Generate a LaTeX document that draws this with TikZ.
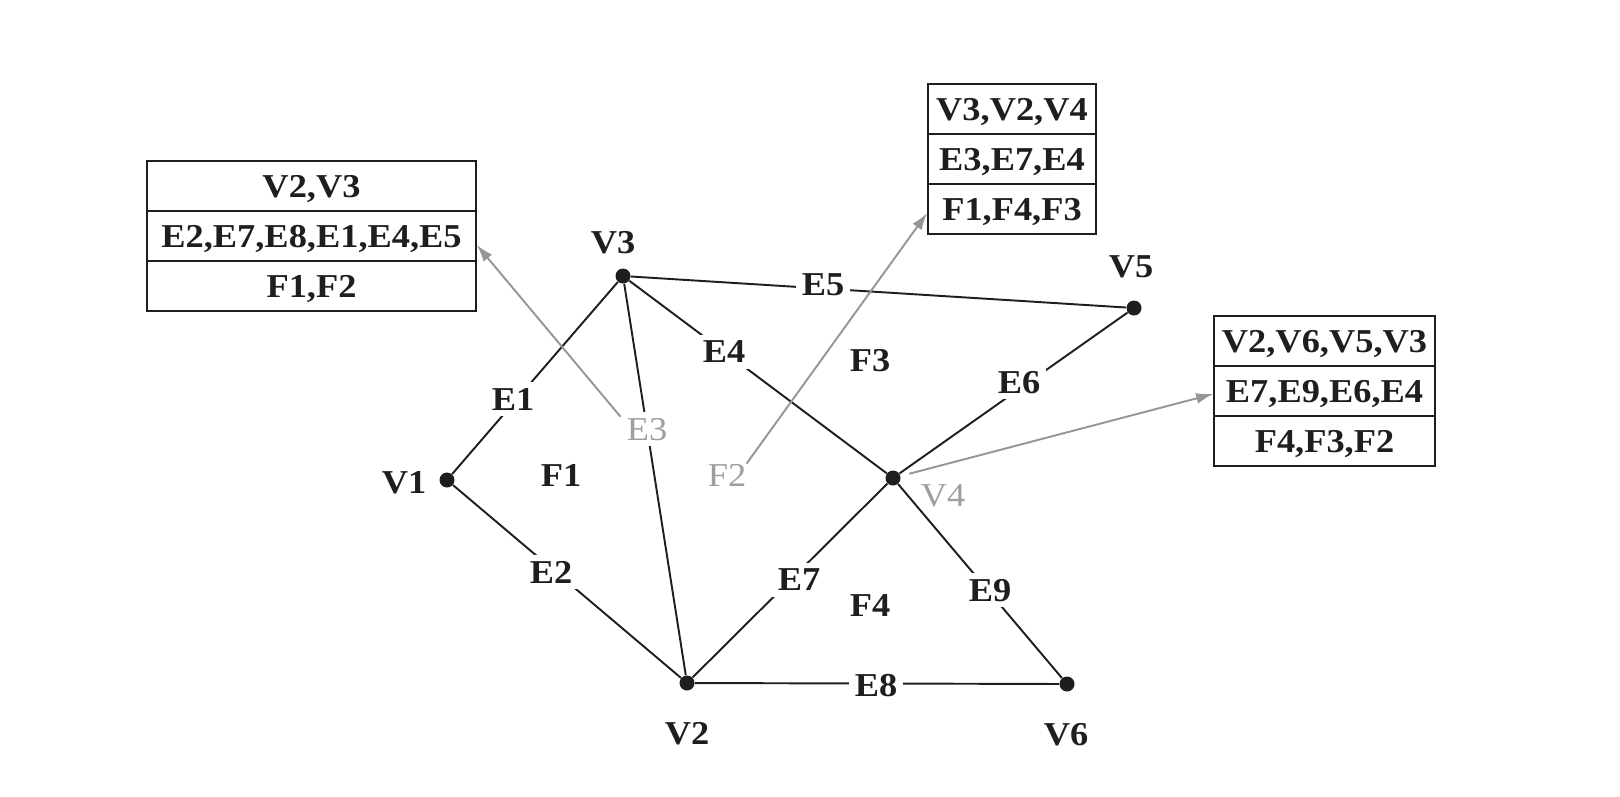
\documentclass[tikz,border=0pt]{standalone}
\usepackage{fontspec}
\setmainfont{Liberation Serif}[FakeStretch=1.09]
\usetikzlibrary{arrows.meta}
\definecolor{ink}{RGB}{30,30,30}
\definecolor{lgray}{RGB}{150,150,150}
\definecolor{tgray}{RGB}{158,158,158}
\begin{document}
\begin{tikzpicture}[x=0.02cm,y=-0.02cm,
  dot/.style={circle,fill=ink,inner sep=0pt,minimum size=0.3cm},
  edge/.style={draw=ink,line width=1.1pt},
  lab/.style={font=\fontsize{19}{22}\selectfont\bfseries,text=ink,inner sep=0pt,text depth=0pt},
  elab/.style={lab,fill=white,inner sep=0.12cm},
  glab/.style={font=\fontsize{19}{22}\selectfont,text=tgray,inner sep=0pt,text depth=0pt},
  gelab/.style={glab,fill=white,inner sep=0.12cm},
  garrow/.style={draw=lgray,line width=1.1pt,-{Latex[length=0.34cm,width=0.22cm]}},
  row/.style={draw=ink,line width=1pt,minimum height=1cm,inner sep=0pt,text depth=0pt,
    font=\fontsize{19}{22}\selectfont\bfseries,text=ink}]
\useasboundingbox (0,0) rectangle (1620,796);
% vertices
\node[dot] (v1) at (447,480) {};
\node[dot] (v2) at (687,683) {};
\node[dot] (v3) at (623,276) {};
\node[dot] (v4) at (893,478) {};
\node[dot] (v5) at (1134,308) {};
\node[dot] (v6) at (1067,684) {};
% edges
\draw[edge] (v1) -- (v3);
\draw[edge] (v1) -- (v2);
\draw[edge] (v3) -- (v2);
\draw[edge] (v3) -- (v4);
\draw[edge] (v3) -- (v5);
\draw[edge] (v4) -- (v5);
\draw[edge] (v4) -- (v2);
\draw[edge] (v2) -- (v6);
\draw[edge] (v4) -- (v6);
% vertex labels
\node[lab] (lv1) at (404,482) {V1};
\node[lab] (lv2) at (687,733) {V2};
\node[lab] (lv3) at (613,242) {V3};
\node[lab] (lv5) at (1131,267) {V5};
\node[lab] (lv6) at (1066,734) {V6};
\node[glab] (lv4) at (943,495) {V4};
% edge labels
\node[elab] (e1) at (513,399) {E1};
\node[elab] (e2) at (551,572) {E2};
\node[gelab] (e3) at (647,429) {E3};
\node[elab] (e4) at (724,352) {E4};
\node[elab] (e5) at (823,285) {E5};
\node[elab] (e6) at (1019,382) {E6};
\node[elab] (e7) at (799,580) {E7};
\node[elab] (e8) at (876,685) {E8};
\node[elab] (e9) at (990,590) {E9};
% face labels
\node[lab] (f1) at (561,475) {F1};
\node[glab] (f2) at (727,475) {F2};
\node[lab] (f3) at (870,360) {F3};
\node[lab] (f4) at (870,605) {F4};
% boxes
\node[row,minimum width=6.58cm] (b1r1) at (311.5,186) {V2,V3};
\node[row,minimum width=6.58cm] (b1r2) at (311.5,236) {E2,E7,E8,E1,E4,E5};
\node[row,minimum width=6.58cm] (b1r3) at (311.5,286) {F1,F2};
\node[row,minimum width=3.36cm] (b2r1) at (1012,109) {V3,V2,V4};
\node[row,minimum width=3.36cm] (b2r2) at (1012,159) {E3,E7,E4};
\node[row,minimum width=3.36cm] (b2r3) at (1012,209) {F1,F4,F3};
\node[row,minimum width=4.42cm] (b3r1) at (1324.5,341) {V2,V6,V5,V3};
\node[row,minimum width=4.42cm] (b3r2) at (1324.5,391) {E7,E9,E6,E4};
\node[row,minimum width=4.42cm] (b3r3) at (1324.5,441) {F4,F3,F2};
% pointers
\draw[garrow] (e3.155) -- ([yshift=-0.18cm]b1r2.east);
\draw[garrow] (f2.north east) -- ([yshift=-0.08cm]b2r3.west);
\draw[garrow,shorten <=0.18cm] (v4) -- ([yshift=-0.06cm]b3r2.west);
\end{tikzpicture}
\end{document}
